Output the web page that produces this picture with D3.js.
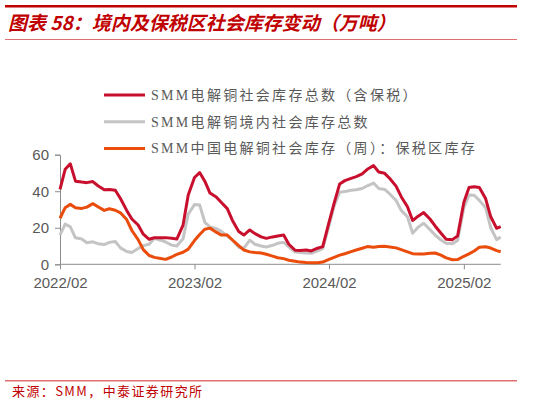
<!DOCTYPE html>
<html>
<head>
<meta charset="utf-8">
<script src="https://cdn.jsdelivr.net/npm/d3@7"></script>
<style>
  body { margin: 0; background: #fff; }
  svg { display: block; }
</style>
</head>
<body>
<svg width="538" height="404"></svg>
<script>
// semi-monthly readings, 2022/02 .. 2025/05 (万吨)
var dates = [
  "2022-02-01","2022-02-15","2022-03-01","2022-03-15","2022-04-01","2022-04-15","2022-05-01","2022-05-15",
  "2022-06-01","2022-06-15","2022-07-01","2022-07-15","2022-08-01","2022-08-15","2022-09-01","2022-09-15",
  "2022-10-01","2022-10-15","2022-11-01","2022-11-15","2022-12-01","2022-12-15","2023-01-01","2023-01-15",
  "2023-02-01","2023-02-15","2023-03-01","2023-03-15","2023-04-01","2023-04-15","2023-05-01","2023-05-15",
  "2023-06-01","2023-06-15","2023-07-01","2023-07-15","2023-08-01","2023-08-15","2023-09-01","2023-09-15",
  "2023-10-01","2023-10-15","2023-11-01","2023-11-15","2023-12-01","2023-12-15","2024-01-01","2024-01-15",
  "2024-02-01","2024-02-15","2024-03-01","2024-03-15","2024-04-01","2024-04-15","2024-05-01","2024-05-15",
  "2024-06-01","2024-06-15","2024-07-01","2024-07-15","2024-08-01","2024-08-15","2024-09-01","2024-09-15",
  "2024-10-01","2024-10-15","2024-11-01","2024-11-15","2024-12-01","2024-12-15","2025-01-01","2025-01-15",
  "2025-02-01","2025-02-15","2025-03-01","2025-03-15","2025-04-01","2025-04-15","2025-05-01","2025-05-12"
];

var totalStock = [41, 52, 55, 45.5, 45, 44.7, 45.3, 43, 40.8, 41,
  40.5, 36, 29.5, 24.8, 21.5, 16.5, 13.7, 14.5, 14.5, 14.6,
  14.2, 13.8, 21.5, 38, 47.5, 50.2, 45.5, 39, 36.8, 33.8,
  30.5, 24, 18, 16, 18.8, 16.8, 15, 14.2, 15, 15.5,
  16, 11, 7.7, 7.5, 7.8, 7.3, 8.8, 9.7, 23, 33.5,
  44, 45.8, 47, 48, 49.5, 52, 54, 50.5, 49.8, 47,
  42.8, 37, 31.5, 24, 26.5, 28.3, 24.8, 21, 17, 13.7,
  13.5, 15.5, 34, 42, 42.5, 42, 36, 26, 19.7, 20.6];

var domesticStock = [16, 22, 20.5, 14.5, 13.8, 11.8, 12.3, 11.3, 10.8, 12,
  12.5, 9, 7, 6.5, 8.6, 10.2, 11, 14.2, 13.2, 12.2,
  10.5, 10, 14, 27.5, 32.7, 32.5, 23, 20.5, 19.5, 18,
  15.5, 13.3, 9.3, 8.8, 13.2, 11, 10, 9.5, 10.4, 11.5,
  12, 9.5, 6.7, 6.4, 6.2, 6, 7.3, 8.6, 21, 32,
  39.5, 39.8, 40.5, 40.8, 41.5, 43, 44.5, 41.5, 41, 38.5,
  35, 29.5, 26, 17, 20.5, 22.5, 19, 16, 13.3, 11.5,
  11.3, 13, 31, 37.9, 37.8, 35, 31, 20, 13.5, 15];

var bondedStock = [25.2, 31, 32.8, 31, 30.6, 31.3, 33.2, 31.5, 29.5, 30.4,
  29.6, 28.2, 24.5, 18.5, 13.5, 8, 4.8, 3.8, 3.2, 2.7,
  4, 5.4, 6.6, 8.3, 13, 16.3, 19.2, 19.8, 17.6, 16,
  16, 13.3, 10.2, 7.8, 6.8, 6.4, 6.2, 5.5, 4.5, 3.6,
  3.1, 2.2, 1.7, 1.2, 1, 0.9, 0.9, 1.2, 2.7, 3.8,
  5, 5.8, 6.9, 7.8, 8.8, 9.7, 9.3, 9.7, 9.9, 9.5,
  9, 8, 6.8, 5.8, 5.7, 5.7, 6, 6.2, 5, 3.5,
  2.5, 2.6, 4.4, 5.7, 7.3, 9.3, 9.6, 8.9, 7.5, 6.9];

var seriesNames = ["SMM电解铜社会库存总数（含保税）", "SMM电解铜境内社会库存总数", "SMM中国电解铜社会库存（周）：保税区库存"];
var yTicks = [0, 20, 40, 60];
var xTicks = ["2022-02-01", "2023-02-01", "2024-02-01", "2025-02-01"];

var svg = d3.select("svg");
var parse = d3.timeParse("%Y-%m-%d");
var red = "#c8102e", grey = "#c4c4c4", orange = "#ea4c0c", dark = "#c00000";

// header
svg.append("rect").attr("x", 5).attr("y", 5).attr("width", 512).attr("height", 2.5).attr("fill", dark);
svg.append("text")
    .attr("x", 8).attr("y", 30)
    .attr("font-family", "Noto Sans CJK SC")
    .attr("font-size", 19).attr("font-weight", "bold").attr("font-style", "italic")
    .attr("fill", dark)
    .text("图表 58：境内及保税区社会库存变动（万吨）");
svg.append("rect").attr("x", 5).attr("y", 39).attr("width", 512).attr("height", 1).attr("fill", "#e07070");

// footer
svg.append("rect").attr("x", 5).attr("y", 380).attr("width", 512).attr("height", 1.5).attr("fill", "#e07070");
svg.append("text")
    .attr("x", 12).attr("y", 396)
    .attr("font-family", "Noto Sans CJK SC").attr("font-size", 13)
    .attr("letter-spacing", 1.4)
    .attr("fill", dark)
    .text("来源：SMM，中泰证券研究所");

var x = d3.scaleTime()
    .domain([parse(dates[0]), parse(dates[dates.length - 1])])
    .range([60, 500.7]);
var y = d3.scaleLinear().domain([0, 60]).range([264.3, 154.7]);

var yAxis = svg.append("g")
    .attr("transform", "translate(60,0)")
    .call(d3.axisLeft(y).tickValues(yTicks).tickSize(5).tickPadding(6));
var xAxis = svg.append("g")
    .attr("transform", "translate(0,264.3)")
    .call(d3.axisBottom(x).tickValues(xTicks.map(parse)).tickSize(5).tickPadding(8)
        .tickFormat(d3.timeFormat("%Y/%m")));

[yAxis, xAxis].forEach(function (a) {
    a.select(".domain").attr("stroke", "#8c8c8c").attr("stroke-width", 1);
    a.selectAll(".tick line").attr("stroke", "#8c8c8c");
    a.selectAll(".tick text")
        .attr("fill", "#595959")
        .attr("font-family", "Liberation Sans, Arial, sans-serif")
        .attr("font-size", 15);
});
xAxis.select(".domain").attr("d", "M60,0H500.7");

var line = d3.line()
    .x(function (d) { return x(d.date); })
    .y(function (d) { return y(d.value); });

function rows(values) {
    return values.map(function (v, i) { return { date: parse(dates[i]), value: v }; });
}

var series = [
    { values: domesticStock, color: grey },
    { values: bondedStock, color: orange },
    { values: totalStock, color: red }
];

svg.append("g").selectAll("path")
    .data(series)
    .enter()
    .append("path")
    .attr("d", function (d) { return line(rows(d.values)); })
    .attr("fill", "none")
    .attr("stroke", function (d) { return d.color; })
    .attr("stroke-width", 3)
    .attr("stroke-linejoin", "round");

// legend
var legendColors = [red, grey, orange];
var legend = svg.append("g").selectAll("g")
    .data(seriesNames)
    .enter()
    .append("g")
    .attr("transform", function (d, i) { return "translate(104," + (95 + i * 26.7) + ")"; });

legend.append("line")
    .attr("x1", 0).attr("x2", 41)
    .attr("stroke", function (d, i) { return legendColors[i]; })
    .attr("stroke-width", 3);

legend.append("text")
    .attr("x", 47).attr("y", 5)
    .attr("font-family", "Liberation Serif, Noto Sans CJK SC")
    .attr("font-size", 14)
    .attr("letter-spacing", 2.3)
    .attr("fill", "#595959")
    .text(function (d) { return d; });
</script>
</body>
</html>
